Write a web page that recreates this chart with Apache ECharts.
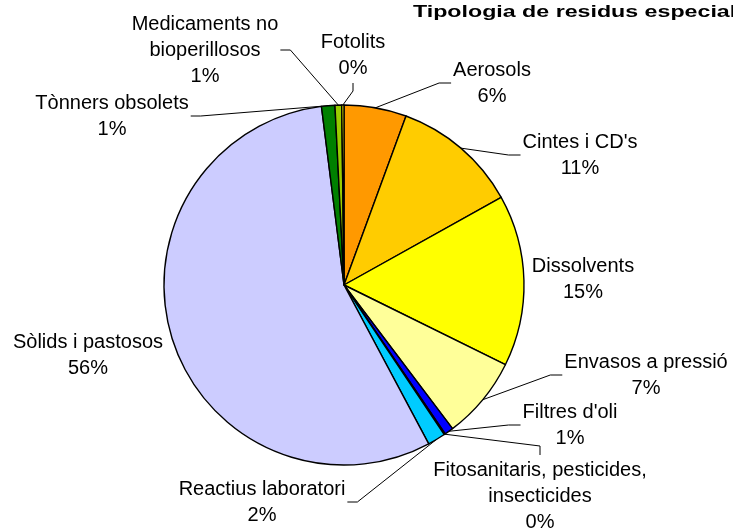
<!DOCTYPE html>
<html>
<head>
<meta charset="utf-8">
<script src="https://cdn.jsdelivr.net/npm/echarts@6/dist/echarts.min.js"></script>
<style>
  html, body { margin: 0; padding: 0; background: #fff; }
  #chart { width: 733px; height: 529px; }
</style>
</head>
<body>
<div id="chart"></div>
<script>
// Tipologia de residus especials (%)
const categories = ['Aerosols', "Cintes i CD's", 'Dissolvents', 'Envasos a pressió', "Filtres d'oli",
  'Fitosanitaris, pesticides,\ninsecticides', 'Reactius laboratori', 'Sòlids i pastosos',
  'Tònners obsolets', 'Medicaments no\nbioperillosos', 'Fotolits'];
const values = [5.6, 11.3, 15.4, 7.4, 0.8, 0.1, 1.6, 55.8, 1.2, 0.6, 0.2];
const colors = ['#FF9900', '#FFCC00', '#FFFF00', '#FFFF99', '#0000FF', '#993366',
  '#00CCFF', '#CCCCFF', '#008000', '#99CC00', '#FFFF00'];

// centre of each label, and the side the leader line leaves from
const labelPos = [[492, 83], [580, 155], [583, 279], [646, 375], [570, 425], [540, 496],
  [262, 502], [88, 355], [112, 116], [205, 50], [353, 55]];
const lineSide = ['left', 'left', 'none', 'left', 'left', 'top', 'right', 'none', 'right', 'right', 'bottom'];

const myChart = echarts.init(document.getElementById('chart'));

const option = {
  animation: false,
  graphic: [{
    type: 'text',
    left: 413,
    top: 4,
    scaleX: 1.45,
    scaleY: 1.05,
    style: {
      text: 'Tipologia de residus especials',
      font: 'bold 16px "Liberation Sans", Arial, sans-serif',
      fill: '#000'
    }
  }],
  series: [{
    type: 'pie',
    center: [344, 285],
    radius: 180,
    startAngle: 90,
    avoidLabelOverlap: false,
    itemStyle: { borderColor: '#000', borderWidth: 1.4 },
    label: {
      show: true,
      position: 'outside',
      color: '#000',
      fontFamily: '"Liberation Sans", Arial, sans-serif',
      fontSize: 20,
      lineHeight: 26,
      align: 'center',
      formatter: p => p.name + '\n' + Math.round(p.percent) + '%'
    },
    labelLine: {
      show: true,
      length: 10,
      length2: 10,
      lineStyle: { color: '#000', width: 1 }
    },
    emphasis: { disabled: true },
    labelLayout: function (p) {
      const i = p.dataIndex;
      const x = labelPos[i][0], y = labelPos[i][1];
      const w = p.labelRect.width, h = p.labelRect.height;
      const side = lineSide[i];
      const res = { x: x, y: y, align: 'center', verticalAlign: 'middle' };
      if (side === 'none' || !p.labelLinePoints) return res;
      const a = p.labelLinePoints[0];
      let p1, p2;
      if (side === 'left') { p2 = [x - w / 2 - 2, y]; p1 = [p2[0] - 12, y]; }
      else if (side === 'right') { p2 = [x + w / 2 + 2, y]; p1 = [p2[0] + 10, y]; }
      else if (side === 'top') { p2 = [x, y - h / 2 - 2]; p1 = [x, p2[1] - 9]; }
      else { p2 = [x, y + h / 2 + 2]; p1 = [x, p2[1] + 8]; }
      res.labelLinePoints = [a, p1, p2];
      return res;
    },
    data: categories.map((name, i) => ({
      name: name,
      value: values[i],
      itemStyle: { color: colors[i] },
      labelLine: { show: lineSide[i] !== 'none' }
    }))
  }]
};

myChart.setOption(option);
</script>
</body>
</html>
